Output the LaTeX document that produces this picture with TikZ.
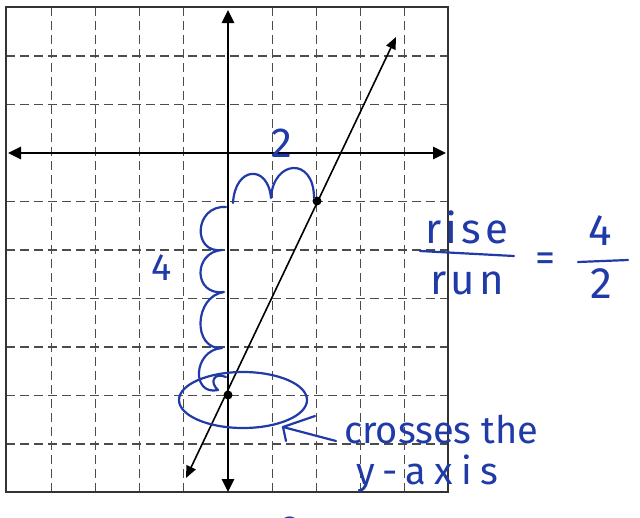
\documentclass[tikz,border=0pt]{standalone}
\usepackage{fontspec}
\setmainfont{Fira Sans}
\usetikzlibrary{arrows.meta}
\definecolor{ink}{RGB}{32,58,168}
\begin{document}
\begin{tikzpicture}[x=1pt,y=-1pt,
  gridline/.style={black!70,line width=1.1pt,dash pattern=on 9pt off 5pt},
  frame/.style={black!80,line width=1.3pt},
  axisline/.style={line width=2.6pt,{Triangle[length=13pt,width=12pt]}-{Triangle[length=13pt,width=12pt]}},
  graphline/.style={line width=1.6pt,{Triangle[length=12pt,width=10pt]}-{Triangle[length=12pt,width=10pt]}},
  dot/.style={circle,fill=black,inner sep=0pt,minimum size=9pt},
  pen/.style={ink,line width=2.2pt,line cap=round,line join=round},
  hand/.style={ink,inner sep=0pt,font=\fontsize{#1}{#1}\selectfont},
  hand/.default=36]
\useasboundingbox (0,0) rectangle (640,517);
\fill[white] (0,0) rectangle (640,517);
% grid
\foreach \i in {-4,-3,-2,-1,1,2,3,4}
  \draw[gridline] ({228+44.1*\i},7) -- ({228+44.1*\i},492);
\foreach \j in {-2,-1,1,2,3,4,5,6}
  \draw[gridline] (6,{153+48.5*\j}) -- (448,{153+48.5*\j});
\draw[frame] (6,7) rectangle (448,492);
% axes
\coordinate (xl) at (8,153);
\coordinate (xr) at (446,153);
\coordinate (yt) at (228,10);
\coordinate (yb) at (228,492);
\draw[axisline] (xl) -- (xr);
\draw[axisline] (yb) -- (yt);
% line
\coordinate (lb) at (186,478);
\coordinate (lt) at (396,37);
\draw[graphline] (lb) -- (lt);
\node[dot] (p1) at (228,395) {};
\node[dot] (p2) at (317,201) {};
% run bumps
\draw[pen] (233,203) .. controls (235,166) and (268,164) .. (271,198)
  .. controls (273,160) and (314,156) .. (314,198);
% rise bumps
\draw[pen] (226,207) .. controls (194,205) and (192,254) .. (222,250)
  .. controls (193,252) and (193,296) .. (224,292)
  .. controls (194,296) and (192,350) .. (222,348)
  .. controls (193,350) and (191,396) .. (218,390)
  .. controls (209,382) and (214,372) .. (226,377);
% ellipse
\draw[pen] (243,400) ellipse [x radius=64, y radius=28];
% arrow
\coordinate (at) at (283,427);
\coordinate (af) at (336,441);
\draw[pen] (af) -- (at);
\draw[pen] (315,416) -- (at) -- (286,441);
% labels
\node[hand=42] (two) at (282,143) {2};
\node[hand=38] (four) at (162,268) {4};
\node[hand=38,anchor=base west] (cross) at (344,443) {crosses the};
\node[hand=38,anchor=base west] (yaxis) at (356,484) {\addfontfeature{LetterSpace=22}y-axis};
\node[hand=42,anchor=base] (rise) at (467,243) {\addfontfeature{LetterSpace=10}rise};
\node[hand=42,anchor=base] (run) at (467,294) {\addfontfeature{LetterSpace=10}run};
\draw[pen] (420,251) -- (514,256);
\node[hand=40] (eq) at (545,262) {=};
\node[hand=44,anchor=base] (num) at (600,245) {4};
\draw[pen] (578,262) -- (628,260);
\node[hand=44,anchor=base] (den) at (601,298) {2};
\begin{scope}
\clip (0,0) rectangle (640,517);
\node[hand=42,anchor=base] (cut) at (291,545) {2};
\end{scope}
\end{tikzpicture}
\end{document}
